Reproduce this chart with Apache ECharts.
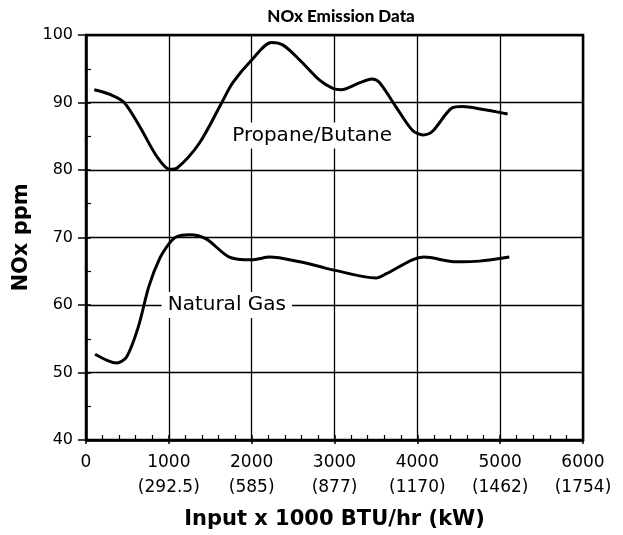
<!DOCTYPE html>
<html>
<head>
<meta charset="utf-8">
<script src="https://cdn.jsdelivr.net/npm/echarts@6/dist/echarts.min.js"></script>
<style>
  html, body { margin: 0; padding: 0; background: #fff; }
  #main { width: 623px; height: 535px; }
</style>
</head>
<body>
<div id="main"></div>
<script>
// values (x = 1000 BTU/hr, y = NOx ppm)
var propaneX = [100, 290, 460, 650, 855, 1010, 1100, 1370, 1640, 1770, 2000, 2240, 2380, 2580, 2820, 2980, 3080, 3300, 3450, 3540, 3740, 3940, 4070, 4180, 4420, 4540, 4780, 5090];
var propaneY = [91.9, 91.2, 90, 86.4, 82, 80.1, 80.3, 84, 90, 92.9, 96.3, 98.9, 98.5, 96.3, 93.3, 92.1, 91.9, 92.9, 93.5, 93, 89.4, 85.9, 85.2, 85.7, 89.2, 89.4, 89, 88.3];

var gasX = [110, 370, 490, 630, 760, 890, 1010, 1090, 1250, 1450, 1730, 2000, 2220, 2580, 2820, 2980, 3500, 3620, 3940, 4080, 4470, 4750, 5110];
var gasY = [52.7, 51.4, 52.3, 56.7, 62.8, 66.9, 69.2, 70.1, 70.4, 69.8, 67.1, 66.7, 67.1, 66.4, 65.7, 65.2, 64.0, 64.6, 66.7, 67.1, 66.4, 66.5, 67.1];

var xTickLabels = ['0', '1000\n(292.5)', '2000\n(585)', '3000\n(877)', '4000\n(1170)', '5000\n(1462)', '6000\n(1754)'];

var seriesNames = ['Propane/Butane', 'Natural Gas'];
var namePos = [[2730, 85.1], [1700, 60]];

function pairs(xs, ys){
	var out = [];
	for(var i=0;i<xs.length;i++){
		out.push([xs[i], ys[i]]);
	}
	return out;
}

var font = '"DejaVu Sans", sans-serif';
var chart = echarts.init(document.getElementById('main'));

var option = {
	backgroundColor: '#fff',
	animation: false,
	title: {
		text: 'NOx Emission Data',
		left: 336,
		textAlign: 'center',
		top: 3,
		textStyle: { fontFamily: 'Lato, sans-serif', fontWeight: 900, fontSize: 17, color: '#000' }
	},
	grid: {
		left: 86, right: 40, top: 35, bottom: 95,
		show: true,
		borderColor: '#000',
		borderWidth: 2.5
	},
	xAxis: [{
		type: 'value',
		min: 0, max: 6000, interval: 1000,
		name: 'Input x 1000 BTU/hr (kW)',
		nameLocation: 'middle',
		nameGap: 69,
		nameTextStyle: { fontFamily: font, fontWeight: 'bold', fontSize: 21, color: '#000' },
		axisLine: { lineStyle: { color: '#000', width: 2.5 } },
		axisTick: { show: true, inside: true, length: 5, lineStyle: { color: '#000', width: 1.5 } },
		minorTick: { show: true, splitNumber: 5, length: 5, lineStyle: { color: '#000', width: 1.2 } },
		splitLine: { show: true, lineStyle: { color: '#000', width: 1.3 } },
		axisLabel: {
			margin: 10,
			fontFamily: font, fontSize: 17, color: '#000', lineHeight: 25,
			verticalAlign: 'top',
			formatter: function(value, index){
				return xTickLabels[index];
			}
		}
	}, {
		// outward major ticks only
		type: 'value', position: 'bottom',
		min: 0, max: 6000, interval: 1000,
		axisLine: { show: false },
		axisTick: { show: true, length: 4, lineStyle: { color: '#000', width: 1.5 } },
		axisLabel: { show: false },
		splitLine: { show: false }
	}],
	yAxis: [{
		type: 'value',
		min: 40, max: 100, interval: 10,
		name: 'NOx ppm',
		nameLocation: 'middle',
		nameGap: 52,
		nameTextStyle: { fontFamily: font, fontWeight: 'bold', fontSize: 21, color: '#000' },
		axisLine: { show: true, lineStyle: { color: '#000', width: 2.5 } },
		axisTick: { show: true, inside: true, length: 5, lineStyle: { color: '#000', width: 1.5 } },
		minorTick: { show: true, splitNumber: 2, length: 5, lineStyle: { color: '#000', width: 1.2 } },
		splitLine: { show: true, lineStyle: { color: '#000', width: 1.3 } },
		axisLabel: { margin: 13, fontFamily: font, fontSize: 16, color: '#000' }
	}, {
		type: 'value', position: 'left',
		min: 40, max: 100, interval: 10,
		axisLine: { show: false },
		axisTick: { show: true, length: 8, lineStyle: { color: '#000', width: 1.5 } },
		axisLabel: { show: false },
		splitLine: { show: false }
	}],
	series: [
		{
			name: seriesNames[0],
			type: 'line',
			data: pairs(propaneX, propaneY),
			smooth: 0.3,
			showSymbol: false,
			lineStyle: { color: '#000', width: 3 },
			z: 3
		},
		{
			name: seriesNames[1],
			type: 'line',
			data: pairs(gasX, gasY),
			smooth: 0.3,
			showSymbol: false,
			lineStyle: { color: '#000', width: 3 },
			z: 3
		},
		{
			type: 'scatter',
			symbol: 'rect',
			symbolSize: 1,
			itemStyle: { color: '#fff', opacity: 1 },
			z: 10,
			silent: true,
			data: [
				{ value: namePos[0], name: seriesNames[0] },
				{ value: namePos[1], name: seriesNames[1] }
			],
			label: {
				show: true,
				position: 'inside',
				formatter: '{b}',
				fontFamily: font, fontSize: 20, color: '#000',
				backgroundColor: '#fff',
				padding: [3, 6]
			}
		}
	]
};
chart.setOption(option);
</script>
</body>
</html>
